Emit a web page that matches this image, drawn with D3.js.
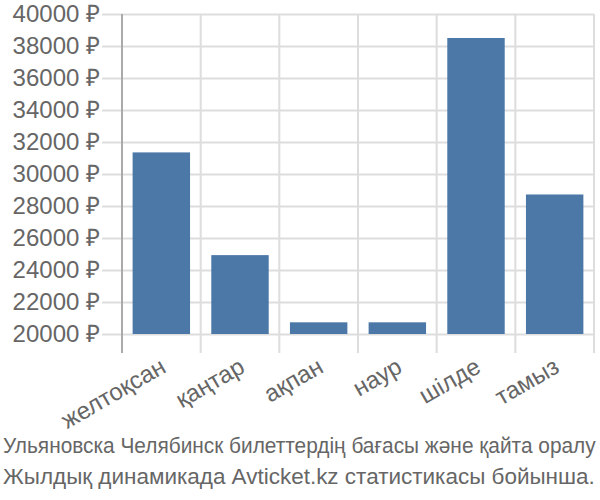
<!DOCTYPE html>
<html><head><meta charset="utf-8">
<script src="https://cdn.jsdelivr.net/npm/d3@7"></script>
<style>body{margin:0;background:#fff}svg{display:block}text{font-family:"Liberation Sans",Arial,sans-serif;fill:#666}</style>
</head><body><svg id="c" width="600" height="500"></svg>
<script>
const categories=["желтоқсан","қаңтар","ақпан","наур","шілде","тамыз"];
const values=[31350,24930,20730,20730,38500,28720];
const yTicks=[20000,22000,24000,26000,28000,30000,32000,34000,36000,38000,40000];
const titleLines=["Ульяновска Челябинск билеттердің бағасы және қайта оралу","Жылдық динамикада Avticket.kz статистикасы бойынша."];

const svg=d3.select("#c");
const x=d3.scaleBand().domain(categories).range([122,594]).paddingInner(0.27).paddingOuter(0.135);
const xg=d3.scaleBand().domain(categories).range([122,594]);
const y=d3.scaleLinear().domain([20000,40000]).range([334,14]);

svg.append("g").selectAll("line").data(yTicks).join("line")
 .attr("x1",102).attr("x2",594).attr("y1",d=>y(d)+0.5).attr("y2",d=>y(d)+0.5)
 .attr("stroke","#ddd").attr("stroke-width",2);
const vx=categories.map(c=>xg(c)).concat([594]);
svg.append("g").selectAll("line").data(vx).join("line")
 .attr("x1",d=>d).attr("x2",d=>d).attr("y1",14).attr("y2",353)
 .attr("stroke","#ddd").attr("stroke-width",2);
svg.append("line").attr("x1",122).attr("x2",122).attr("y1",14).attr("y2",353).attr("stroke","#aaa").attr("stroke-width",2);

svg.append("g").selectAll("rect").data(values).join("rect")
 .attr("x",(d,i)=>x(categories[i])).attr("width",x.bandwidth())
 .attr("y",d=>y(d)).attr("height",d=>y(20000)-y(d))
 .attr("fill","#4c78a8");

svg.append("g").selectAll("text").data(yTicks).join("text")
 .attr("x",100).attr("y",d=>y(d)).attr("dy","0.35em").attr("text-anchor","end")
 .attr("font-size",24).text(d=>d+" ₽");

svg.append("g").selectAll("text").data(categories).join("text")
 .attr("text-anchor","end").attr("font-size",24)
 .attr("transform",c=>`translate(${xg(c)+xg.bandwidth()/2+2},${364}) rotate(-30)`)
 .attr("dy","0.35em").text(c=>c);

const fitW=[593,592];
svg.append("g").selectAll("text").data(titleLines).join("text")
 .attr("font-size",22).text(d=>d)
 .each(function(d,i){
   const w=this.getComputedTextLength();
   const s=fitW[i]/w;
   d3.select(this).attr("transform",`translate(3,${453+i*31}) scale(${s},1)`);
 });
</script></body></html>
